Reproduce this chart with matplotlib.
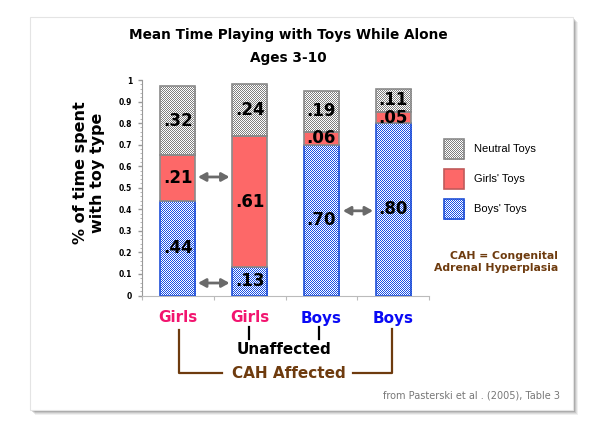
import numpy as np
import matplotlib
matplotlib.use('Agg')
import matplotlib.pyplot as plt
from matplotlib.patches import Rectangle
from matplotlib.lines import Line2D
from matplotlib.transforms import Affine2D, blended_transform_factory
from matplotlib.ticker import MultipleLocator

# -------------------------------
# data (Pasterski et al. 2005, Table 3)
# -------------------------------
groups = ['Girls', 'Girls', 'Boys', 'Boys']
boys_toys = [0.44, 0.13, 0.70, 0.80]
girls_toys = [0.21, 0.61, 0.06, 0.05]
neutral_toys = [0.32, 0.24, 0.19, 0.11]
legend_labels = ['Neutral Toys', "Girls' Toys", "Boys' Toys"]

# colours
gray_c = np.array([0.50, 0.50, 0.50])
blue_c = np.array([0.10, 0.31, 0.90])
red_c = '#fd6868'
pink_c = '#f2156f'
boys_c = '#0a0af5'
brown_c = '#6e3b0e'

W, H = 595, 438
fig = plt.figure(figsize=(W / 100, H / 100), dpi=100)
# pixel coords of the reference, y going down
px = Affine2D().scale(1 / W, -1 / H).translate(0, 1) + fig.transFigure

# -------------------------------
# slide card with drop shadow
# -------------------------------
for off, a in [(5, 0.06), (4, 0.08), (3, 0.10), (2, 0.14), (1, 0.18)]:
    fig.add_artist(Rectangle((30 + off, 17 + off), 543, 393, transform=px,
                             facecolor='k', edgecolor='none', alpha=a, zorder=-1))
fig.add_artist(Rectangle((30, 17), 543, 393, transform=px, facecolor='white',
                         edgecolor='#e4e4e4', lw=0.8, zorder=0))

# checkerboard textures at pixel level
yy, xx = np.mgrid[0:H, 0:W]
checker = (xx + yy) % 2 == 0


def texture(rgb):
    img = np.ones((H, W, 3))
    img[checker] = rgb
    return img


gray_tex = texture(gray_c)
blue_tex = texture(blue_c)


def fill_texture(patch, tex):
    im = fig.figimage(tex, xo=0, yo=0, zorder=1, origin='upper')
    im.set_clip_path(patch)


# -------------------------------
# stacked bars
# -------------------------------
ax = fig.add_axes([142 / W, 1 - 295.5 / H, 287 / W, 215.5 / H])
ax.set_zorder(2)
ax.patch.set_visible(False)

x = np.arange(len(groups))
bw = 0.49
bottom2 = np.array(boys_toys)
bottom3 = bottom2 + np.array(girls_toys)

b_boys = ax.bar(x, boys_toys, bw, facecolor='none', edgecolor='#2050d8', lw=1.2)
b_girls = ax.bar(x, girls_toys, bw, bottom=bottom2, facecolor=red_c,
                 edgecolor='#8a8a8a', lw=1.2)
b_neutral = ax.bar(x, neutral_toys, bw, bottom=bottom3, facecolor='none',
                   edgecolor='#8a8a8a', lw=1.2)
for p in b_boys:
    fill_texture(p, blue_tex)
for p in b_neutral:
    fill_texture(p, gray_tex)

# value labels
for vals, bots in [(boys_toys, np.zeros(4)), (girls_toys, bottom2), (neutral_toys, bottom3)]:
    for i, v in enumerate(vals):
        ax.text(x[i], bots[i] + v / 2, '.%02d' % round(v * 100), ha='center',
                va='center', fontsize=12, fontweight='bold')

# comparison arrows
arrow_kw = dict(arrowstyle='<|-|>,head_length=0.45,head_width=0.25', lw=2,
                color='#6a6a6a', shrinkA=0, shrinkB=0)
for (x0, x1, yv) in [(0.28, 0.72, 0.55), (0.28, 0.72, 0.058), (2.30, 2.72, 0.393)]:
    ax.annotate('', xy=(x1, yv), xytext=(x0, yv), arrowprops=arrow_kw)

ax.set_xlim(-0.5, 3.5)
ax.set_ylim(0, 1)
ax.set_xticks([-0.5, 0.5, 1.5, 2.5, 3.5])
ax.set_xticklabels([])
ax.yaxis.set_major_locator(MultipleLocator(0.1))
ax.yaxis.set_minor_locator(MultipleLocator(0.02))
ax.set_yticks(np.arange(0, 1.01, 0.1))
ax.set_yticklabels(['0'] + ['%.1f' % v for v in np.arange(0.1, 0.95, 0.1)] + ['1'])
for lab in ax.get_yticklabels():
    lab.set_fontweight('bold')
ax.tick_params(axis='y', which='major', length=3, width=1, color='#999999',
               labelsize=5.5, pad=4)
ax.tick_params(axis='y', which='minor', length=1.5, width=0.6, color='#aaaaaa')
ax.tick_params(axis='x', length=3, width=0.8, color='#bbbbbb')
for s in ['top', 'right']:
    ax.spines[s].set_visible(False)
ax.spines['left'].set_color('#999999')
ax.spines['bottom'].set_color('#bbbbbb')

# -------------------------------
# texts
# -------------------------------
fig.text(288, 35, 'Mean Time Playing with Toys While Alone', transform=px,
         ha='center', va='center', fontsize=9.8, fontweight='bold')
fig.text(288, 58, 'Ages 3-10', transform=px, ha='center', va='center',
         fontsize=9.8, fontweight='bold')
fig.text(89, 173, '% of time spent\nwith toy type', transform=px, rotation=90,
         ha='center', va='center', fontsize=11.5, fontweight='bold',
         linespacing=1.1)

# group labels under the bars
xt = blended_transform_factory(ax.transData, px)
for i, g in enumerate(groups):
    fig.text(x[i], 318, g, transform=xt, ha='center', va='center', fontsize=11,
             fontweight='bold', color=pink_c if g == 'Girls' else boys_c)

# brackets
fig.add_artist(Line2D([179, 179, 222], [330, 373, 373], transform=px,
                      color=brown_c, lw=1.6))
fig.add_artist(Line2D([353, 392, 392], [373, 373, 329], transform=px,
                      color=brown_c, lw=1.6))
for xb in [249, 319]:
    fig.add_artist(Line2D([xb, xb], [327, 339], transform=px, color='k', lw=1.6))
fig.text(284, 350, 'Unaffected', transform=px, ha='center', va='center',
         fontsize=11, fontweight='bold')
fig.text(289, 373, 'CAH Affected', transform=px, ha='center', va='center',
         fontsize=11, fontweight='bold', color=brown_c)

# legend
leg_y = [139, 169, 199]
leg_edges = ['#8a8a8a', '#c05a5a', '#2050d8']
leg_faces = ['none', red_c, 'none']
leg_tex = [gray_tex, None, blue_tex]
for lab, y0, ec, fc, tex in zip(legend_labels, leg_y, leg_edges, leg_faces, leg_tex):
    r = Rectangle((444, y0), 20, 20, transform=px, facecolor=fc, edgecolor=ec,
                  lw=1.2, zorder=1.5)
    fig.add_artist(r)
    if tex is not None:
        fill_texture(r, tex)
    fig.text(474, y0 + 10, lab, transform=px, ha='left', va='center',
             fontsize=8, family='Liberation Sans')

fig.text(558, 262, 'CAH = Congenital\nAdrenal Hyperplasia', transform=px,
         ha='right', va='center', multialignment='right', fontsize=7.8,
         fontweight='bold', color=brown_c, linespacing=1.15)
fig.text(560, 396, 'from Pasterski et al . (2005), Table 3', transform=px,
         ha='right', va='center', fontsize=7, color='#777777')

fig.savefig('out.png', dpi=100)
